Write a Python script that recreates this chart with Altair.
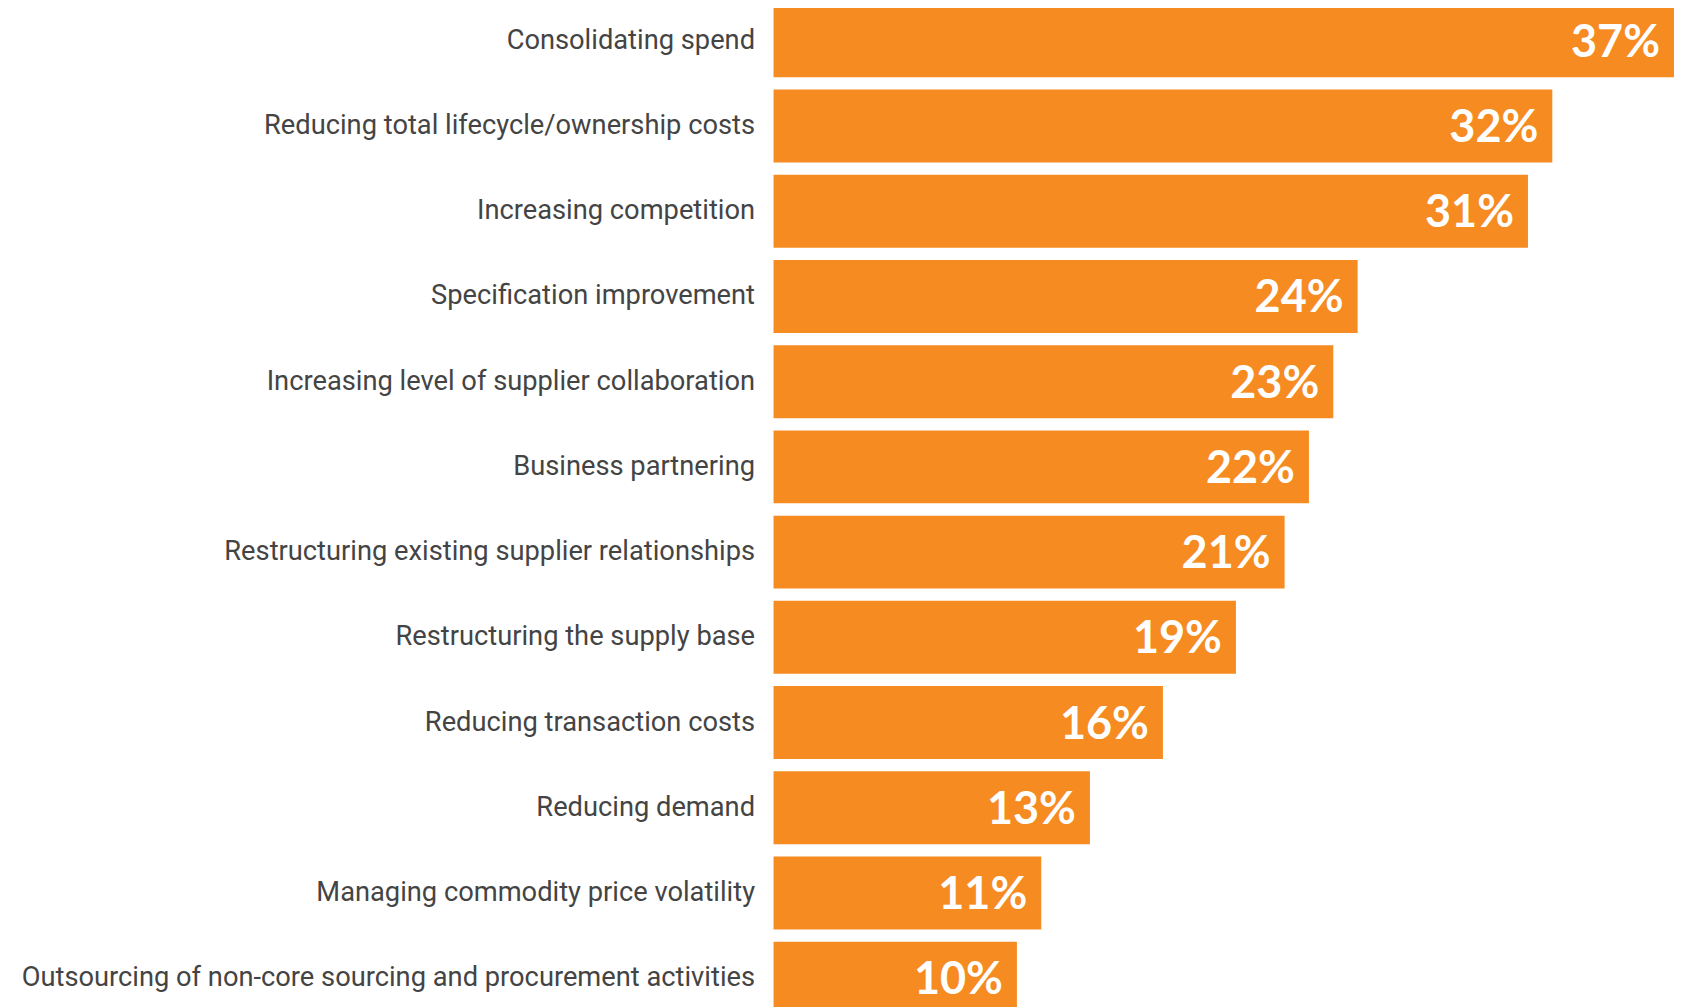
import altair as alt
import pandas as pd

categories = [
    "Consolidating spend",
    "Reducing total lifecycle/ownership costs",
    "Increasing competition",
    "Specification improvement",
    "Increasing level of supplier collaboration",
    "Business partnering",
    "Restructuring existing supplier relationships",
    "Restructuring the supply base",
    "Reducing transaction costs",
    "Reducing demand",
    "Managing commodity price volatility",
    "Outsourcing of non-core sourcing and procurement activities",
]
values = [37, 32, 31, 24, 23, 22, 21, 19, 16, 13, 11, 10]

df = pd.DataFrame({"category": categories, "value": values})
df["label"] = df["value"].astype(str) + "%"

y = alt.Y(
    "category:N",
    sort=categories,
    scale=alt.Scale(paddingInner=0.144, paddingOuter=0),
    axis=alt.Axis(
        title=None,
        domain=False,
        ticks=False,
        labelPadding=19,
        labelFontSize=27.3,
        labelFont="Roboto",
        labelColor="#444444",
        labelLimit=1000,
    ),
)
x = alt.X(
    "value:Q",
    scale=alt.Scale(domain=[0, 37], nice=False),
    axis=None,
)

bars = alt.Chart(df).mark_bar(color="#F68B22").encode(x=x, y=y)
text = alt.Chart(df).mark_text(
    align="right", baseline="middle", dx=-14, dy=2,
    color="white", font="Lato", fontWeight="bold", fontSize=45,
).encode(x=x, y=y, text="label:N")

chart = (bars + text).properties(
    width=901, height=1011,
    padding={"left": 12, "top": -4, "right": 0, "bottom": 0},
).configure_view(stroke=None)

chart.save("out.html", embed_options={"renderer": "svg", "actions": False})
